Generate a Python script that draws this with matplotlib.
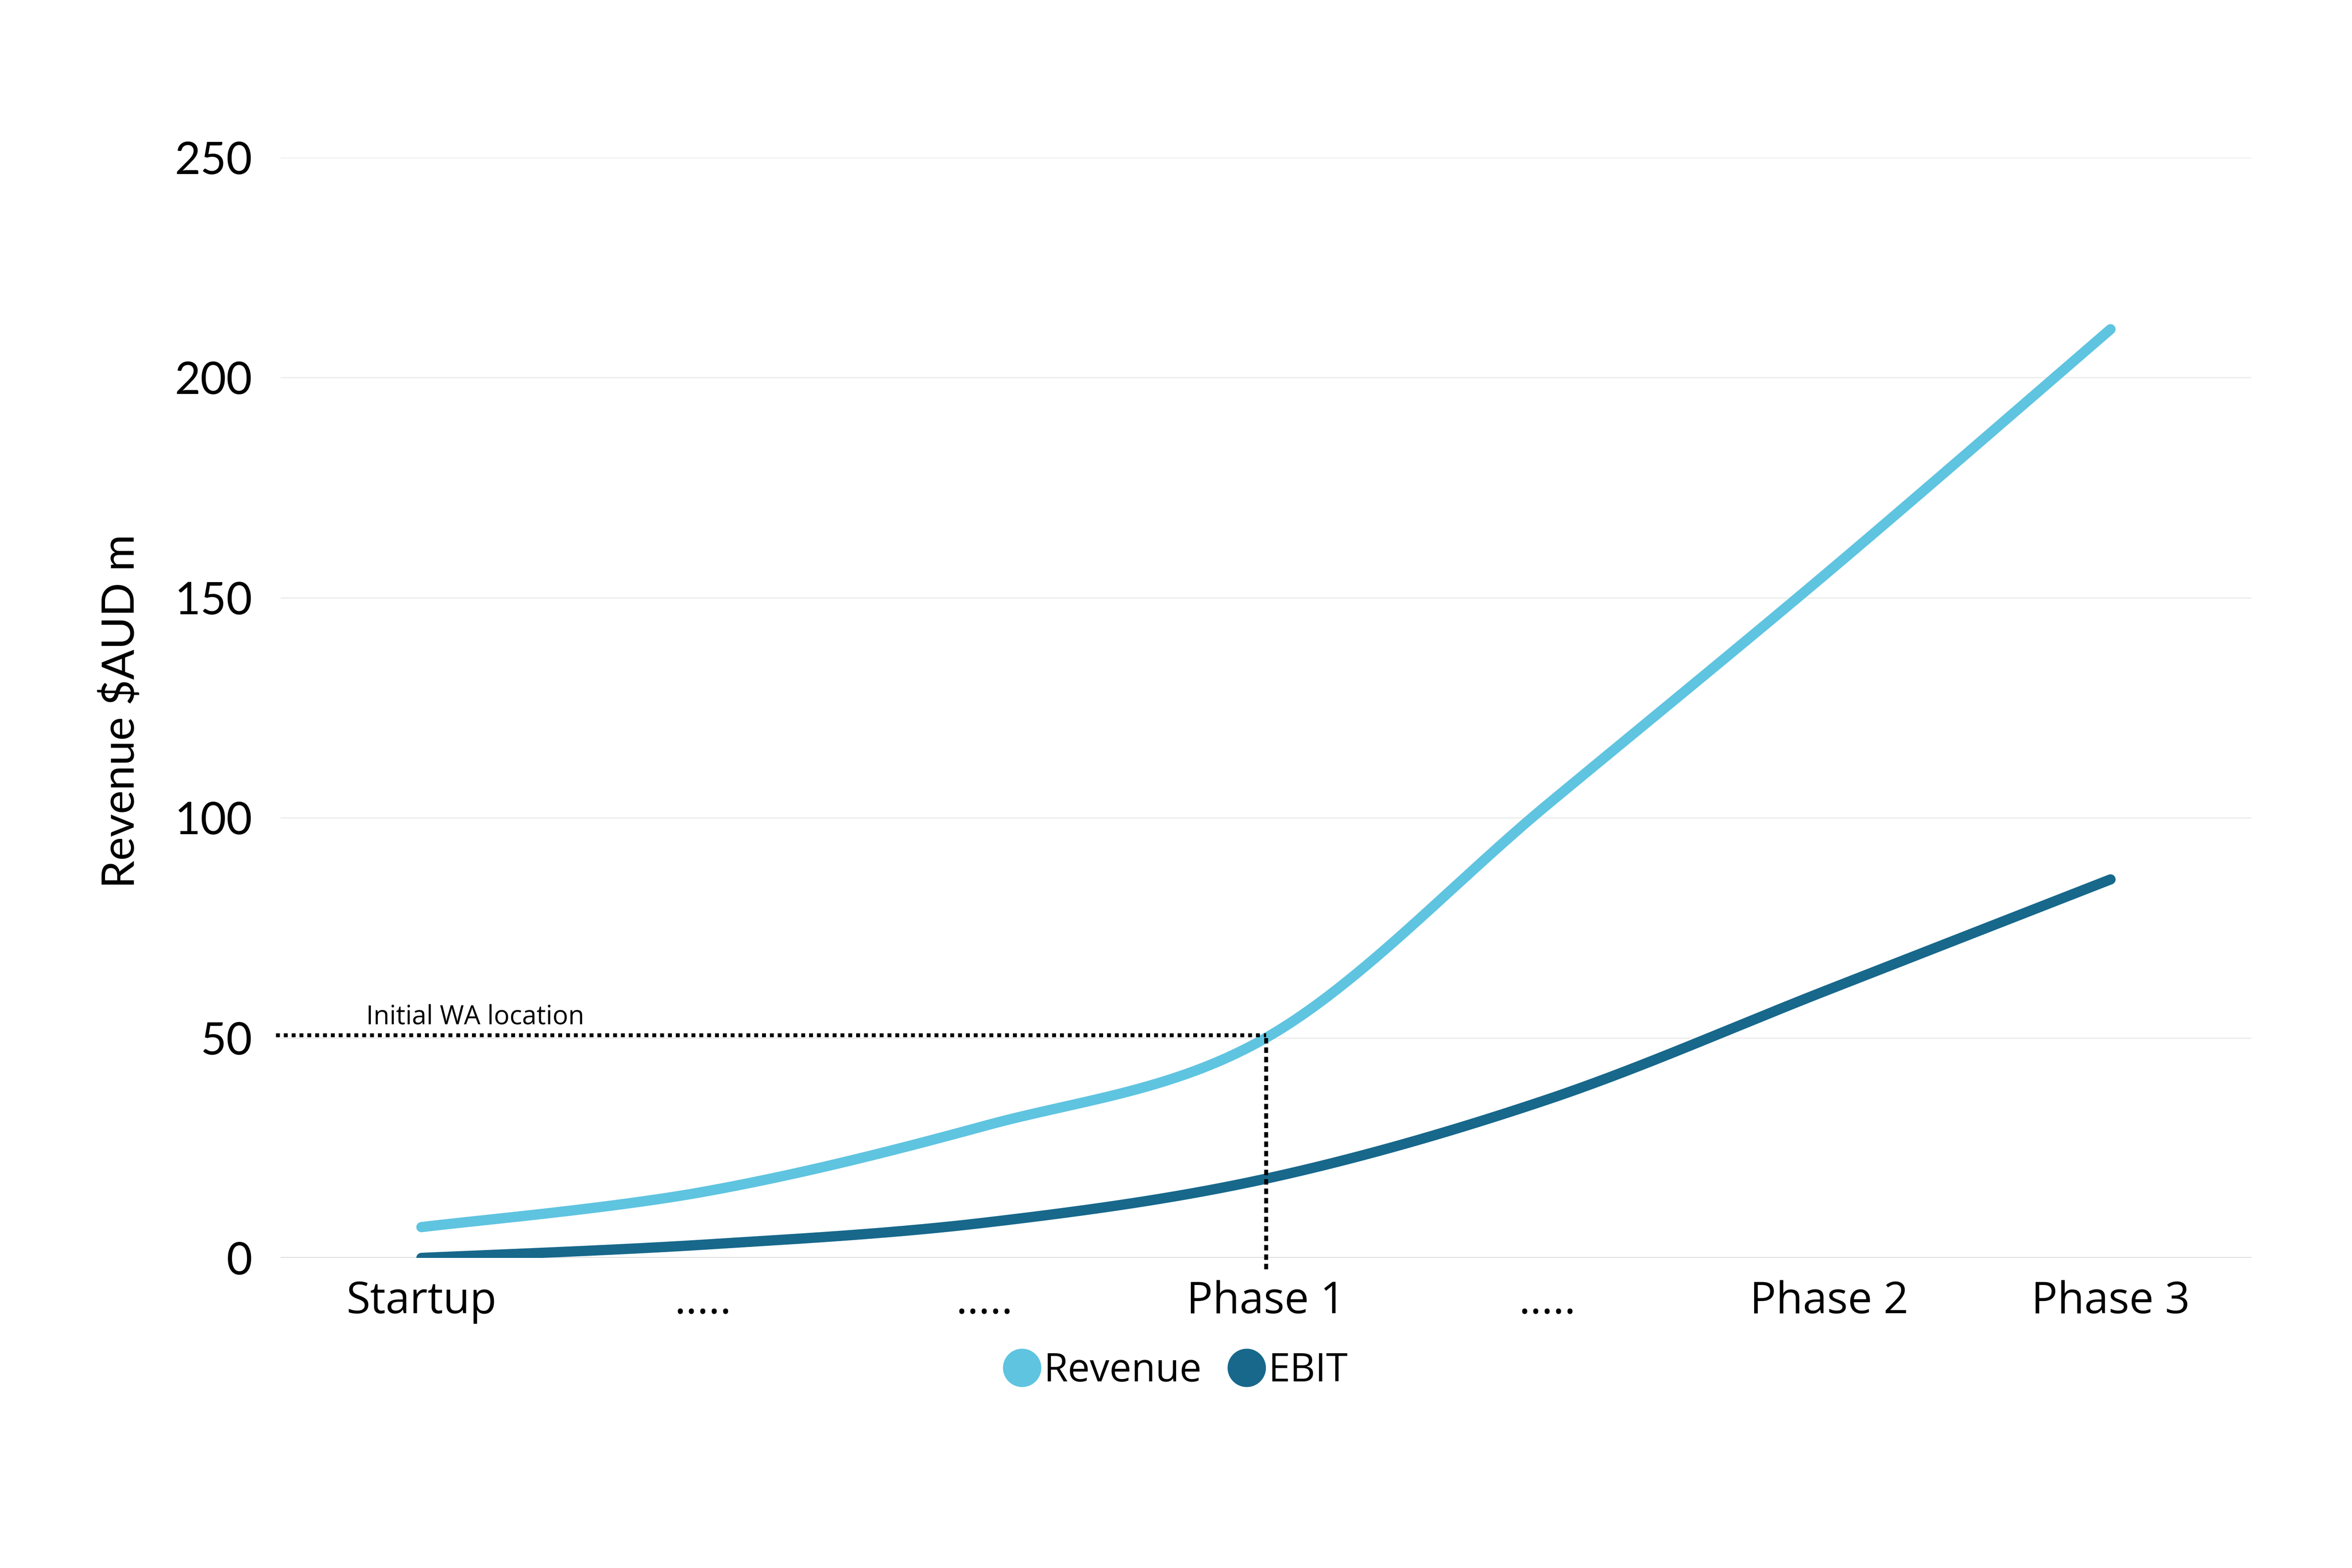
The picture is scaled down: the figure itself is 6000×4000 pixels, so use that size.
import numpy as np
import matplotlib
matplotlib.use("Agg")
import matplotlib.pyplot as plt
from matplotlib.lines import Line2D

# Werte
categories = ["Startup", ".....", ".....", "Phase 1", ".....", "Phase 2", "Phase 3"]
revenue = [7, 15, 30, 50, 103, 156, 211]
ebit = [0, 3, 8, 18, 36, 61, 86]
y_ticks = [0, 50, 100, 150, 200, 250]
marker_index = 3  # "Initial WA location" bei Phase 1

rev_color = "#5FC4E0"
ebit_color = "#17688B"


def smooth(xs, ys, sx, sy, n=60):
    # geglaettete Linie wie in Excel (Bezier mit Catmull-Rom Kontrollpunkten)
    p = np.column_stack([np.asarray(xs, float) * sx, np.asarray(ys, float) * sy])
    ext = np.vstack([p[0], p, p[-1]])
    out = []
    t = np.linspace(0, 1, n)[:, None]
    for i in range(len(p) - 1):
        p0, p3 = ext[i + 1], ext[i + 2]
        c1 = p0 + (ext[i + 2] - ext[i]) / 6
        c2 = p3 - (ext[i + 3] - ext[i + 1]) / 6
        seg = (1 - t) ** 3 * p0 + 3 * (1 - t) ** 2 * t * c1 + 3 * (1 - t) * t ** 2 * c2 + t ** 3 * p3
        out.append(seg if i == 0 else seg[1:])
    out = np.vstack(out)
    return out[:, 0] / sx, out[:, 1] / sy


fig = plt.figure(figsize=(15, 10), dpi=400)
ax = fig.add_axes([716 / 6000, 1 - 3209 / 4000, (5743 - 716) / 6000, (3209 - 402) / 4000])

x = np.arange(len(categories))
# Pixel pro Einheit, damit die Glaettung im Bildraum passiert
sx, sy = 718.0, 11.23

for vals, col in [(revenue, rev_color), (ebit, ebit_color)]:
    xs, ys = smooth(x, vals, sx, sy)
    ax.plot(xs, ys, color=col, lw=4.7, solid_capstyle="round", zorder=3)

ax.set_xlim(-0.5, len(categories) - 0.5)
ax.set_ylim(0, 250)

# Gitternetz
ax.set_yticks(y_ticks)
ax.grid(axis="y", color="#ededed", lw=0.6, zorder=0)
ax.axhline(0, color="#c4c4c4", lw=0.9, zorder=1)
for s in ax.spines.values():
    s.set_visible(False)

ax.set_xticks(x)
ax.set_xticklabels(categories, fontfamily="Open Sans", fontsize=20)
ax.set_yticklabels([str(v) for v in y_ticks], fontfamily="Lato", fontsize=20.5)
ax.tick_params(axis="x", length=0, pad=10)
ax.tick_params(axis="y", length=0, pad=13)

fig.text(308 / 6000, 1 - 1815 / 4000, "Revenue $AUD m", rotation=90, ha="center", va="center",
         fontfamily="Lato", fontsize=20.5)

# Markierung "Initial WA location"
mx = x[marker_index]
my = revenue[marker_index]
ax.plot([-0.517, mx], [my + 0.6, my + 0.6], color="black", lw=1.8, ls=(0, (1, 1)),
        clip_on=False, zorder=4)
ax.plot([mx, mx], [my, -3], color="black", lw=1.8, ls=(0, (1.4, 1)), clip_on=False, zorder=4)
ax.text(-0.197, my + 1.6, "Initial WA location", fontfamily="Open Sans", fontsize=12,
        ha="left", va="bottom")

# Legende
handles = [
    Line2D([], [], marker="o", ls="none", color=rev_color, markersize=16.6),
    Line2D([], [], marker="o", ls="none", color=ebit_color, markersize=16.6),
]
fig.legend(handles, ["Revenue", "EBIT"], loc="center", bbox_to_anchor=(0.5, 0.1255),
           ncol=2, frameon=False, prop={"family": "Open Sans", "size": 18},
           handlelength=0.9, handletextpad=0.1, columnspacing=0.7)

fig.savefig("out.png", dpi=400, facecolor="white")
